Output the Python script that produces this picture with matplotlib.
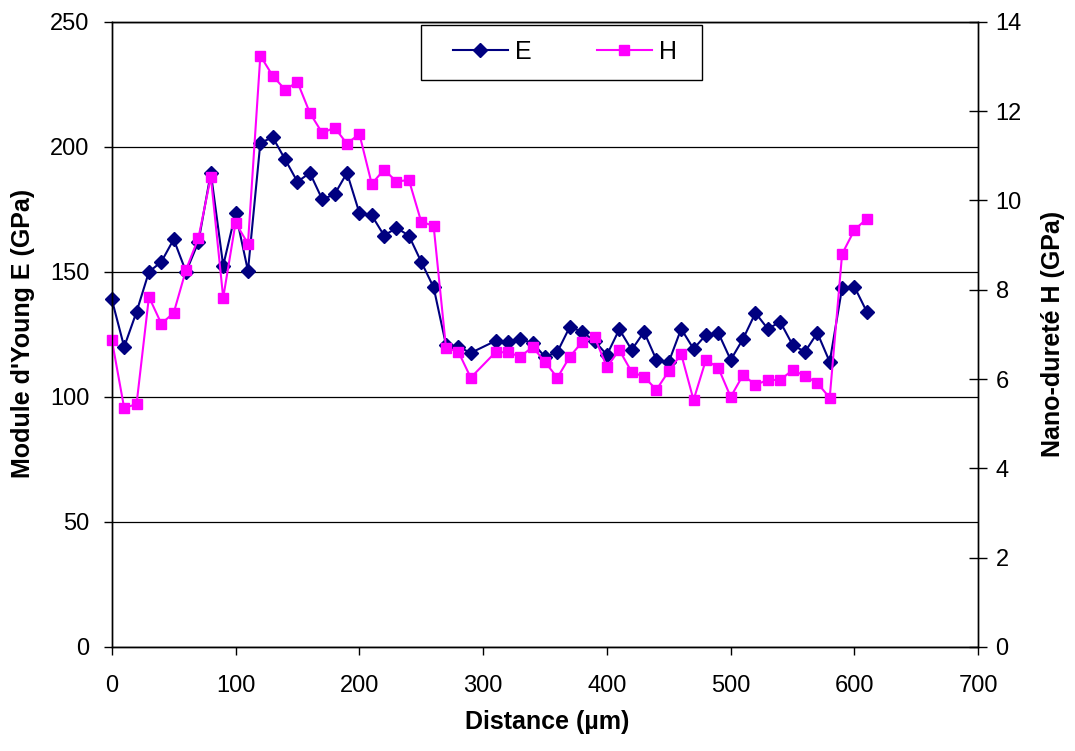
import numpy as np
import matplotlib
matplotlib.use("Agg")
import matplotlib.pyplot as plt
from matplotlib.patches import Rectangle

plt.rcParams['font.family'] = ['Liberation Sans', 'DejaVu Sans']

# distance (µm) - no point at 300
distance = list(range(0, 300, 10)) + list(range(310, 620, 10))

# Young's modulus E (GPa)
E = [139, 120, 134, 150, 154, 163, 150, 162, 189.6, 152.5,
     173.6, 150.4, 201.6, 203.8, 195, 186, 189.6, 179, 181, 189.6,
     173.6, 172.6, 164.5, 167.6, 164.5, 154, 143.8, 120.8, 120, 117.6,
     122.4, 122, 123, 121.6, 116, 118, 128, 126, 122.4, 116.8,
     127, 118.8, 126, 114.8, 114, 127.2, 119.2, 124.8, 125.6, 114.8,
     123.2, 133.6, 127.2, 130, 120.8, 118, 125.6, 114, 143.6, 144, 134]

# nano-hardness H (GPa)
H = [6.88, 5.35, 5.44, 7.84, 7.24, 7.48, 8.45, 9.16, 10.53, 7.82,
     9.5, 9.03, 13.24, 12.79, 12.48, 12.65, 11.96, 11.51, 11.63, 11.27,
     11.49, 10.37, 10.69, 10.42, 10.46, 9.52, 9.43, 6.70, 6.61, 6.03,
     6.6, 6.6, 6.5, 6.72, 6.38, 6.03, 6.5, 6.83, 6.94, 6.27,
     6.65, 6.16, 6.05, 5.76, 6.18, 6.56, 5.53, 6.43, 6.25, 5.6,
     6.09, 5.87, 5.98, 5.98, 6.2, 6.07, 5.91, 5.58, 8.80, 9.34, 9.59]

fig = plt.figure(figsize=(10.75, 7.51), dpi=100)
ax1 = fig.add_axes([0.104, 0.1385, 0.806, 0.8325])
ax2 = ax1.twinx()

l1, = ax1.plot(distance, E, color='#000080', marker='D', markersize=7,
               linewidth=1.5, label='E', clip_on=False)
l2, = ax2.plot(distance, H, color='#FF00FF', marker='s', markersize=7.5,
               linewidth=1.5, label='H', clip_on=False)

ax1.set_xlim(0, 700)
ax1.set_ylim(0, 250)
ax2.set_ylim(0, 14)
ax1.set_xticks(range(0, 701, 100))
ax1.set_yticks(range(0, 251, 50))
ax2.set_yticks(range(0, 15, 2))

ax1.yaxis.grid(True, color='black', linewidth=0.9)
ax1.set_axisbelow(True)

for ax in (ax1, ax2):
    for s in ax.spines.values():
        s.set_color('black')
        s.set_linewidth(1)
ax1.tick_params(axis='y', labelsize=17, direction='out', length=6, width=1, pad=10)
ax1.tick_params(axis='x', labelsize=17, direction='out', length=6, width=1, pad=14)
ax2.tick_params(axis='y', labelsize=17, direction='inout', length=13, width=1, pad=6)

ax1.set_xlabel('Distance (µm)', fontsize=18, fontweight='bold')
ax1.set_ylabel("Module d'Young E (GPa)", fontsize=18, fontweight='bold')
ax2.set_ylabel('Nano-dureté H (GPa)', fontsize=18, fontweight='bold')
ax1.xaxis.set_label_coords(0.502, -0.10)
ax1.yaxis.set_label_coords(-0.089, 0.502)
ax2.yaxis.set_label_coords(1.072, 0.5)

# legend box drawn separately, entries placed inside
ax2.add_patch(Rectangle((0.357, 0.907), 0.324, 0.088, transform=ax2.transAxes,
                        facecolor='white', edgecolor='black', linewidth=1,
                        zorder=4, clip_on=False))
leg = ax2.legend(handles=[l1, l2], loc='center', bbox_to_anchor=(0.523, 0.952),
                 ncol=2, fontsize=18, frameon=False,
                 handlelength=2.2, columnspacing=2.6,
                 borderpad=0, handletextpad=0.3, borderaxespad=0)
leg.set_zorder(5)

fig.savefig('out.png', dpi=100)
